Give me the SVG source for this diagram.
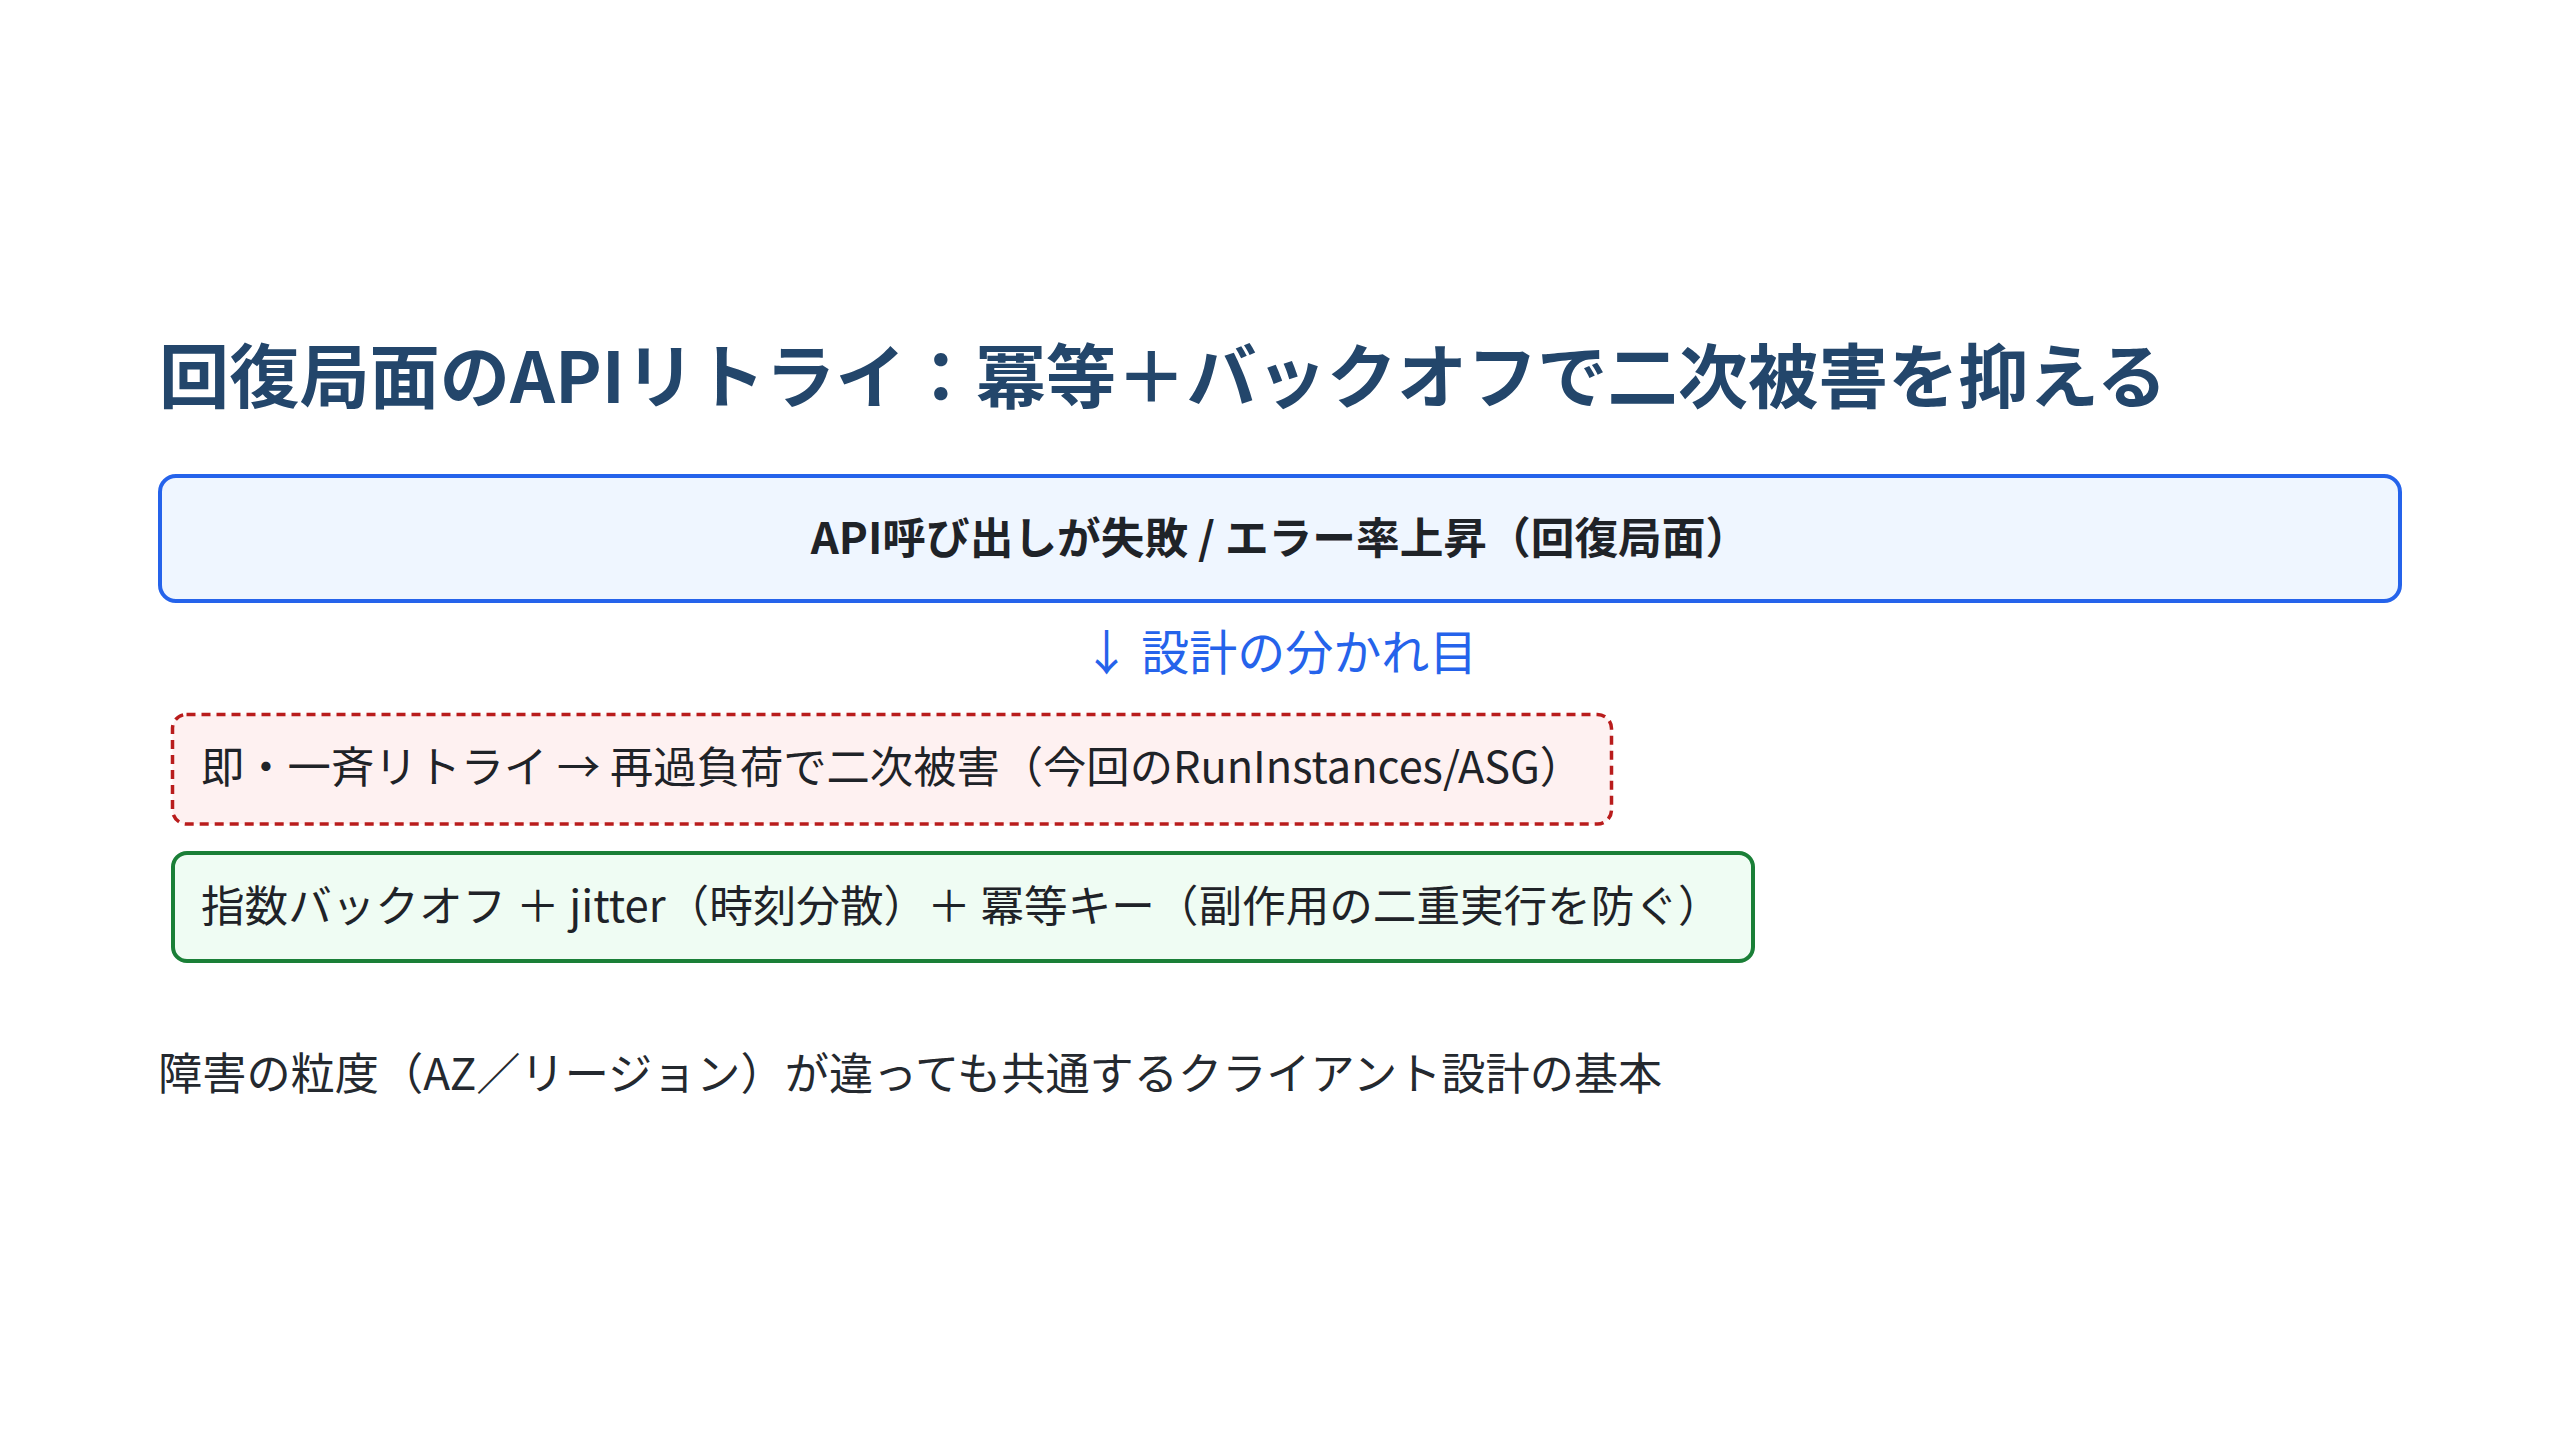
<svg xmlns="http://www.w3.org/2000/svg" width="2560" height="1440" viewBox="0 0 2560 1440">
  <style>
    text { font-family: "Noto Sans CJK JP", "Noto Sans", sans-serif; }
    .title { font-size: 70.2px; font-weight: 700; fill: #23466b; }
    .main { font-size: 43.7px; font-weight: 700; fill: #1f2328; }
    .label { font-size: 48px; font-weight: 400; fill: #2563eb; }
    .opt { font-weight: 400; fill: #1f2328; }
    .note { font-size: 44.2px; font-weight: 400; fill: #24292f; }
    .box-main { fill: #eff6ff; stroke: #2563eb; stroke-width: 4; }
    .box-bad { fill: #fef1f1; stroke: #b91c1c; stroke-width: 3.5; stroke-dasharray: 9 6; }
    .box-good { fill: #effcf3; stroke: #1a7f37; stroke-width: 4; }
  </style>
  <rect width="2560" height="1440" fill="#ffffff"/>
  <g id="title">
    <text class="title" x="159" y="403">回復局面のAPIリトライ：冪等＋バックオフで二次被害を抑える</text>
  </g>
  <g id="node-failure">
    <rect class="box-main" x="160" y="476" width="2240" height="125" rx="16"/>
    <text class="main" x="1280" y="554" text-anchor="middle">API呼び出しが失敗 / エラー率上昇（回復局面）</text>
  </g>
  <g id="connectors">
    <text class="label" x="1280" y="670" text-anchor="middle">↓ 設計の分かれ目</text>
  </g>
  <g id="node-bad">
    <rect class="box-bad" x="172.5" y="714.5" width="1439" height="109.5" rx="14"/>
    <text class="opt" x="201" y="783" font-size="43.3">即・一斉リトライ → 再過負荷で二次被害（今回のRunInstances/ASG）</text>
  </g>
  <g id="node-good">
    <rect class="box-good" x="173" y="853" width="1580" height="108" rx="14"/>
    <text class="opt" x="201" y="922" font-size="43.6">指数バックオフ ＋ jitter（時刻分散）＋ 冪等キー（副作用の二重実行を防ぐ）</text>
  </g>
  <g id="note">
    <text class="note" x="158" y="1090">障害の粒度（AZ／リージョン）が違っても共通するクライアント設計の基本</text>
  </g>
</svg>
